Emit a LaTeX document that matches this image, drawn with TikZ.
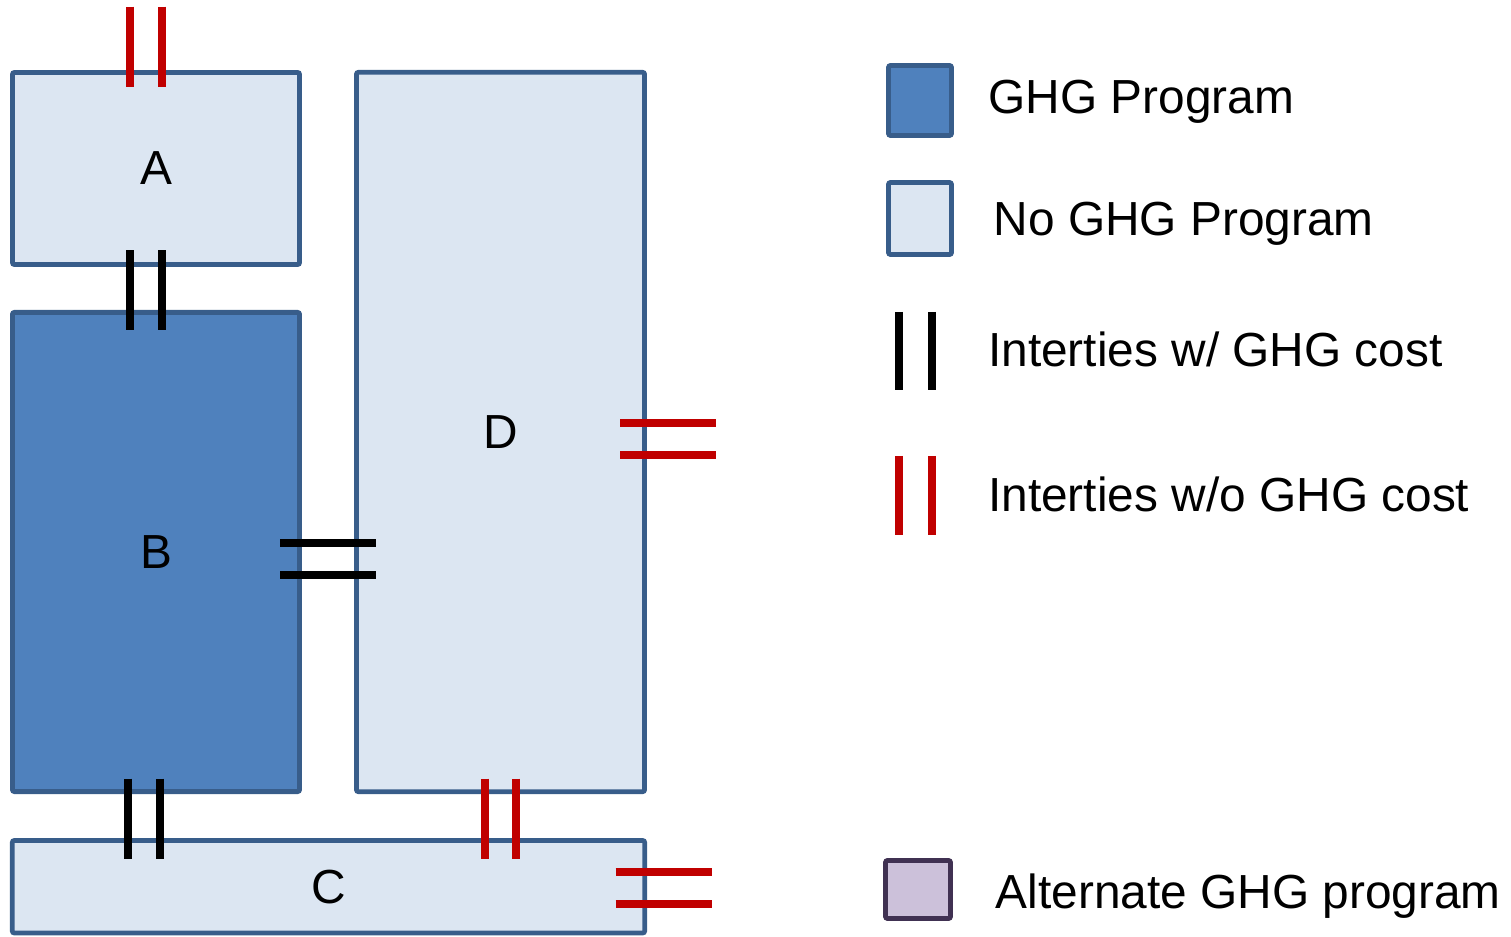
\documentclass[tikz,border=0pt]{standalone}
\usepackage{fontspec}
\setmainfont{Liberation Sans}
\usetikzlibrary{positioning}
\definecolor{clrborder}{HTML}{385D8A}
\definecolor{clrnoprog}{HTML}{DCE6F2}
\definecolor{clrprog}{HTML}{4F81BD}
\definecolor{clralt}{HTML}{CCC1DA}
\definecolor{clraltborder}{HTML}{403152}
\definecolor{clrtie}{HTML}{C00000}
\begin{document}
\begin{tikzpicture}[
    x=0.01cm, y=-0.01cm,
    every node/.style={font=\fontsize{13.6}{16}\selectfont},
    region/.style={draw=clrborder, line width=0.048cm, rounded corners=0.6pt,
                   inner sep=0pt, text=black},
    noprog/.style={region, fill=clrnoprog},
    prog/.style={region, fill=clrprog},
    altprog/.style={region, draw=clraltborder, fill=clralt},
    tieblack/.style={draw=black, line width=0.08cm},
    tiered/.style={draw=clrtie, line width=0.08cm},
    legendtext/.style={anchor=base west, inner sep=0pt},
]
\useasboundingbox (0,0) rectangle (1511,937);
% regions
\node[noprog, minimum width=2.87cm, minimum height=1.92cm] (reg_a) at (156,168.5) {A};
\node[prog, minimum width=2.87cm, minimum height=4.79cm] (reg_b) at (156,552) {B};
\node[noprog, minimum width=2.88cm, minimum height=7.19cm] (reg_d) at (500.5,432) {D};
\node[noprog, minimum width=6.32cm, minimum height=0.925cm] (reg_c) at (328.5,886.75) {C};
% interties
\foreach \dx in {-26,6}
    \draw[tiered] (reg_a.north) ++(\dx,-63.5) -- ++(0,80);
\foreach \dx in {-26,6}
    \draw[tieblack] (reg_a.south) ++(\dx,-16.5) -- ++(0,80);
\foreach \dy in {-8.5,23.5}
    \draw[tieblack] (reg_b.east) ++(-21.5,\dy) -- ++(96,0);
\foreach \dy in {-8.5,23.5}
    \draw[tiered] (reg_d.east) ++(-26.5,\dy) -- ++(96,0);
\foreach \dx in {-28,4}
    \draw[tieblack] (reg_b.south) ++(\dx,-15.5) -- ++(0,80);
\foreach \dx in {-16,15.5}
    \draw[tiered] (reg_d.south) ++(\dx,-15.5) -- ++(0,80);
\foreach \dy in {-14.75,17.25}
    \draw[tiered] (reg_c.east) ++(-31.5,\dy) -- ++(96,0);
% legend
\node[prog, minimum width=0.63cm, minimum height=0.70cm] (key_prog) at (920,100.5) {};
\node[noprog, minimum width=0.63cm, minimum height=0.72cm] (key_noprog) at (920,218.5) {};
\node[altprog, minimum width=0.65cm, minimum height=0.58cm] (key_alt) at (918,889.5) {};
\foreach \x in {899,932}
    \draw[tieblack] (\x,312) -- (\x,390);
\foreach \x in {899,932}
    \draw[tiered] (\x,456) -- (\x,535);
\node[legendtext] (lbl_prog) at (988,114) {GHG Program};
\node[legendtext] (lbl_noprog) at (993,236) {No GHG Program};
\node[legendtext] (lbl_cost) at (987.5,367) {Interties w/ GHG cost};
\node[legendtext] (lbl_nocost) at (987.5,512) {Interties w/o GHG cost};
\node[legendtext] (lbl_alt) at (995,909) {Alternate GHG program};
\end{tikzpicture}
\end{document}
